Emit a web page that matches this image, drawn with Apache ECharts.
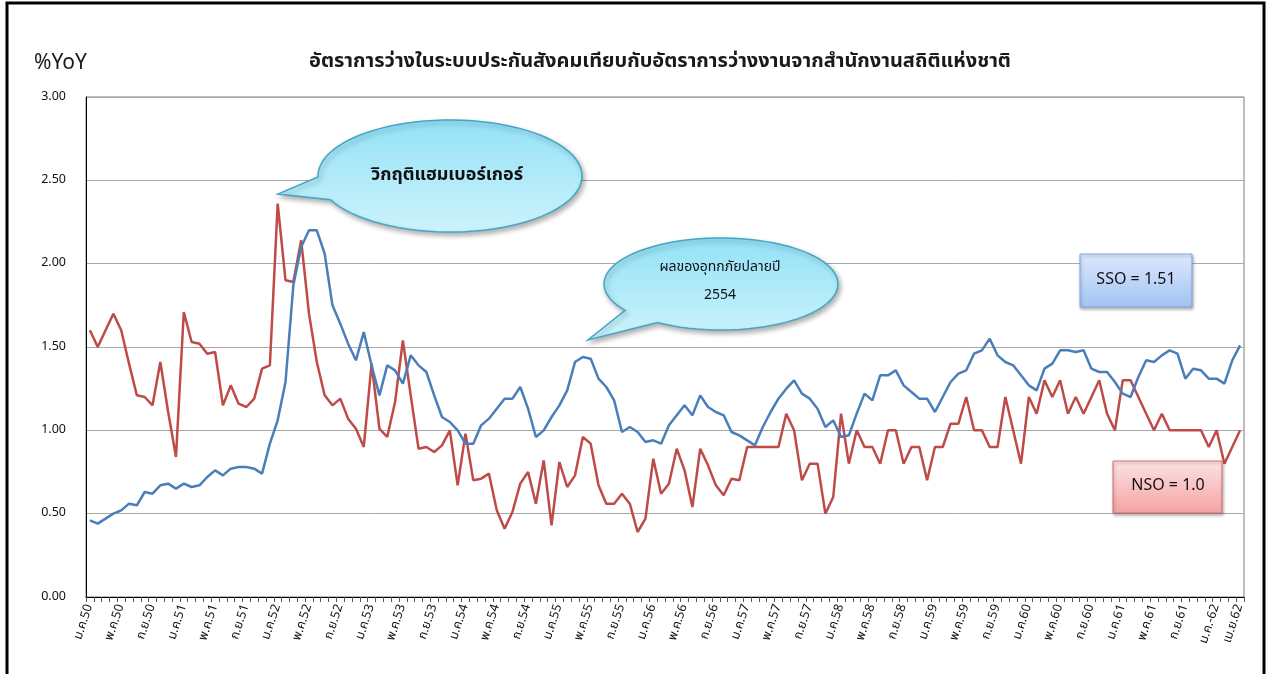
<!DOCTYPE html>
<html>
<head>
<meta charset="utf-8">
<script src="https://cdn.jsdelivr.net/npm/echarts@6/dist/echarts.min.js"></script>
<style>
html,body{margin:0;padding:0;background:#fff;}
#chart{width:1274px;height:674px;}
</style>
</head>
<body>
<div id="chart"></div>
<script>
// ---- Data ----
const monthNames = ['ม.ค.','ก.พ.','มี.ค.','เม.ย.','พ.ค.','มิ.ย.','ก.ค.','ส.ค.','ก.ย.','ต.ค.','พ.ย.','ธ.ค.'];
const startYear = 50, endYear = 62, endMonthIndex = 3; // ม.ค.50 .. เม.ย.62
const categories = [];
for (let y = startYear; y <= endYear; y++) {
  for (let m = 0; m < 12; m++) {
    if (y === endYear && m > endMonthIndex) break;
    categories.push(monthNames[m] + y);
  }
}
categories[144] = 'ม.ค.-62';

const yTicks = [0, 0.5, 1.0, 1.5, 2.0, 2.5, 3.0];

const ssoValues = [
  0.46,0.44,0.47,0.50,0.52,0.56,0.55,0.63,0.62,0.67,0.68,0.65,
  0.68,0.66,0.67,0.72,0.76,0.73,0.77,0.78,0.78,0.77,0.74,0.92,
  1.06,1.29,1.87,2.10,2.20,2.20,2.06,1.75,1.64,1.52,1.42,1.59,
  1.39,1.21,1.39,1.36,1.28,1.45,1.39,1.35,1.21,1.08,1.05,1.00,
  0.92,0.92,1.03,1.07,1.13,1.19,1.19,1.26,1.13,0.96,1.00,1.08,
  1.15,1.24,1.41,1.44,1.43,1.31,1.26,1.18,0.99,1.02,0.99,0.93,
  0.94,0.92,1.03,1.09,1.15,1.09,1.21,1.14,1.11,1.09,0.99,0.97,
  0.94,0.91,1.02,1.11,1.19,1.25,1.30,1.22,1.19,1.13,1.02,1.06,
  0.96,0.97,1.10,1.22,1.18,1.33,1.33,1.36,1.27,1.23,1.19,1.19,
  1.11,1.20,1.29,1.34,1.36,1.46,1.48,1.55,1.45,1.41,1.39,1.33,
  1.27,1.24,1.37,1.40,1.48,1.48,1.47,1.48,1.37,1.35,1.35,1.29,
  1.22,1.20,1.32,1.42,1.41,1.45,1.48,1.46,1.31,1.37,1.36,1.31,
  1.31,1.28,1.42,1.51
];

const nsoValues = [
  1.60,1.50,1.60,1.70,1.60,1.40,1.21,1.20,1.15,1.41,1.11,0.84,
  1.71,1.53,1.52,1.46,1.47,1.15,1.27,1.16,1.14,1.19,1.37,1.39,
  2.36,1.90,1.89,2.14,1.70,1.41,1.21,1.15,1.19,1.07,1.01,0.90,
  1.40,1.01,0.96,1.17,1.54,1.21,0.89,0.90,0.87,0.91,1.00,0.67,
  0.98,0.70,0.71,0.74,0.52,0.41,0.51,0.68,0.75,0.56,0.82,0.43,
  0.81,0.66,0.73,0.96,0.92,0.67,0.56,0.56,0.62,0.56,0.39,0.47,
  0.83,0.62,0.68,0.89,0.76,0.54,0.89,0.79,0.67,0.61,0.71,0.70,
  0.90,0.90,0.90,0.90,0.90,1.10,1.00,0.70,0.80,0.80,0.50,0.60,
  1.10,0.80,1.00,0.90,0.90,0.80,1.00,1.00,0.80,0.90,0.90,0.70,
  0.90,0.90,1.04,1.04,1.20,1.00,1.00,0.90,0.90,1.20,1.00,0.80,
  1.20,1.10,1.30,1.20,1.30,1.10,1.20,1.10,1.20,1.30,1.10,1.00,
  1.30,1.30,1.20,1.10,1.00,1.10,1.00,1.00,1.00,1.00,1.00,0.90,
  1.00,0.80,0.90,1.00
];

const titleText = 'อัตราการว่างในระบบประกันสังคมเทียบกับอัตราการว่างงานจากสำนักงานสถิติแห่งชาติ';
const yUnit = '%YoY';
const callout1Text = 'วิกฤติแฮมเบอร์เกอร์';
const callout2Lines = ['ผลของอุทกภัยปลายปี', '2554'];
const ssoLabel = 'SSO = 1.51';
const nsoLabel = 'NSO = 1.0';

// ---- Shapes ----
const FONT = "Tahoma, 'Noto Sans Thai', 'Noto Sans', 'DejaVu Sans', sans-serif";

function calloutPoints(cx, cy, rx, ry, aStart, aEnd, tip) {
  const pts = [];
  const steps = 80;
  for (let k = 0; k <= steps; k++) {
    const a = (aStart + (aEnd - aStart) * k / steps) * Math.PI / 180;
    pts.push([cx + rx * Math.cos(a), cy + ry * Math.sin(a)]);
  }
  pts.push(tip);
  return pts;
}

const calloutFill = {
  type: 'linear', x: 0, y: 0, x2: 0, y2: 1,
  colorStops: [{offset: 0, color: '#93e1f7'}, {offset: 1, color: '#cdf3fc'}]
};

const chart = echarts.init(document.getElementById('chart'));

const option = {
  backgroundColor: '#ffffff',
  animation: false,
  title: {
    text: titleText,
    left: 655,
    top: 48,
    textAlign: 'center',
    textStyle: { fontFamily: FONT, fontSize: 20, fontWeight: 'bold', color: '#1a1a1a' }
  },
  grid: {
    left: 86, right: 30, top: 97, bottom: 77,
    show: true, borderColor: '#7a7a7a', borderWidth: 1
  },
  xAxis: {
    type: 'category',
    data: categories,
    boundaryGap: true,
    axisLine: { show: true, lineStyle: { color: '#000', width: 1 } },
    axisTick: { show: true, interval: 0, length: 5, lineStyle: { color: '#555' } },
    axisLabel: {
      interval: function (i) { return i % 4 === 0 || i === categories.length - 1; },
      rotate: 72,
      margin: 8,
      fontFamily: FONT,
      fontSize: 12.5,
      color: '#111'
    },
    splitLine: { show: false }
  },
  yAxis: {
    type: 'value',
    min: yTicks[0],
    max: yTicks[yTicks.length - 1],
    interval: 0.5,
    axisLine: { show: true, lineStyle: { color: '#000', width: 1 } },
    axisTick: { show: false },
    axisLabel: {
      formatter: function (v) { return v.toFixed(2); },
      fontFamily: FONT, fontSize: 12.5, color: '#111', margin: 20
    },
    splitLine: { show: true, lineStyle: { color: '#a8a8a8', width: 1 } }
  },
  series: [
    {
      name: 'SSO', type: 'line', data: ssoValues,
      symbol: 'none', smooth: false,
      lineStyle: { color: '#4a7ebb', width: 2.5 },
      itemStyle: { color: '#4a7ebb' },
      z: 3
    },
    {
      name: 'NSO', type: 'line', data: nsoValues,
      symbol: 'none', smooth: false,
      lineStyle: { color: '#be4b48', width: 2.5 },
      itemStyle: { color: '#be4b48' },
      z: 2
    }
  ],
  graphic: [
    { type: 'rect', shape: { x: 7, y: 3, width: 1257, height: 700 }, style: { fill: 'none', stroke: '#000', lineWidth: 3 }, z: 100 },
    { type: 'text', x: 34, y: 54, style: { text: yUnit, font: "21px " + FONT, fill: '#1a1a1a' }, z: 50 },
    {
      type: 'polygon',
      shape: { points: calloutPoints(450, 176, 132, 56, 179, 515, [278, 194]) },
      style: { fill: calloutFill, stroke: '#43a7c4', lineWidth: 1.5, shadowBlur: 5, shadowOffsetX: 2, shadowOffsetY: 3, shadowColor: 'rgba(0,0,0,0.3)' },
      z: 60
    },
    {
      type: 'text', x: 447, y: 176,
      style: { text: callout1Text, font: "bold 18px " + FONT, fill: '#111', textAlign: 'center', textVerticalAlign: 'middle' },
      z: 61
    },
    {
      type: 'polygon',
      shape: { points: calloutPoints(721, 284, 117, 46, 145, 483, [588, 340]) },
      style: { fill: calloutFill, stroke: '#43a7c4', lineWidth: 1.5, shadowBlur: 5, shadowOffsetX: 2, shadowOffsetY: 3, shadowColor: 'rgba(0,0,0,0.3)' },
      z: 60
    },
    {
      type: 'text', x: 720, y: 268,
      style: { text: callout2Lines[0], font: "14px " + FONT, fill: '#111', textAlign: 'center', textVerticalAlign: 'middle' },
      z: 61
    },
    {
      type: 'text', x: 720, y: 296,
      style: { text: callout2Lines[1], font: "14px " + FONT, fill: '#111', textAlign: 'center', textVerticalAlign: 'middle' },
      z: 61
    },
    {
      type: 'rect', shape: { x: 1080, y: 254, width: 112, height: 53 },
      style: {
        fill: { type: 'linear', x: 0, y: 0, x2: 0, y2: 1, colorStops: [{offset: 0, color: '#dde9fd'}, {offset: 1, color: '#a3c2f3'}] },
        stroke: '#7fa5dd', lineWidth: 1, shadowBlur: 3, shadowOffsetX: 1, shadowOffsetY: 2, shadowColor: 'rgba(0,0,0,0.3)'
      },
      z: 60
    },
    {
      type: 'text', x: 1136, y: 281,
      style: { text: ssoLabel, font: "16px " + FONT, fill: '#111', textAlign: 'center', textVerticalAlign: 'middle' },
      z: 61
    },
    {
      type: 'rect', shape: { x: 1113, y: 461, width: 109, height: 52 },
      style: {
        fill: { type: 'linear', x: 0, y: 0, x2: 0, y2: 1, colorStops: [{offset: 0, color: '#fde3e3'}, {offset: 1, color: '#f4a2a2'}] },
        stroke: '#d27272', lineWidth: 1, shadowBlur: 3, shadowOffsetX: 1, shadowOffsetY: 2, shadowColor: 'rgba(0,0,0,0.3)'
      },
      z: 60
    },
    {
      type: 'text', x: 1168, y: 487,
      style: { text: nsoLabel, font: "16px " + FONT, fill: '#111', textAlign: 'center', textVerticalAlign: 'middle' },
      z: 61
    }
  ]
};

chart.setOption(option);
</script>
</body>
</html>
